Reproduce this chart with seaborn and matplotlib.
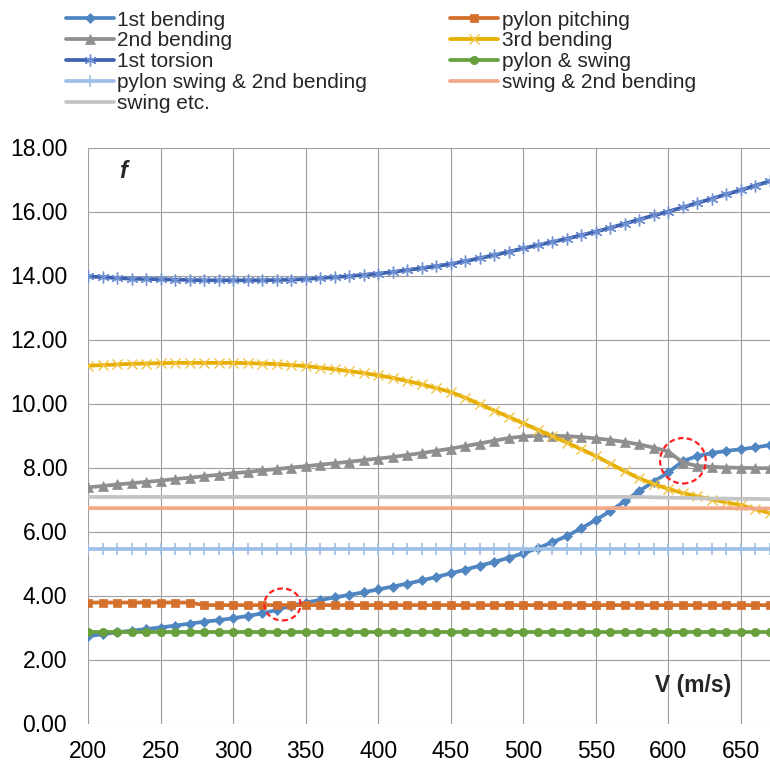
import numpy as np
import pandas as pd
import seaborn as sns
import matplotlib.pyplot as plt
from matplotlib.patches import Ellipse
from matplotlib.ticker import FormatStrFormatter, MultipleLocator

sns.set_theme(style="white")
plt.rcParams["font.family"] = ["Liberation Sans", "DejaVu Sans"]

# flow speed V (m/s)
V = [200, 210, 220, 230, 240, 250, 260, 270, 280, 290, 300, 310,
     320, 330, 340, 350, 360, 370, 380, 390, 400, 410, 420, 430,
     440, 450, 460, 470, 480, 490, 500, 510, 520, 530, 540, 550,
     560, 570, 580, 590, 600, 610, 620, 630, 640, 650, 660, 670]

# frequencies f
bend1 = [2.73, 2.79, 2.85, 2.90, 2.95, 3.00, 3.06, 3.12, 3.18, 3.23, 3.29, 3.36,
         3.44, 3.55, 3.68, 3.78, 3.86, 3.94, 4.02, 4.10, 4.19, 4.28, 4.37, 4.47,
         4.58, 4.69, 4.81, 4.93, 5.05, 5.18, 5.32, 5.48, 5.66, 5.86, 6.10, 6.36,
         6.64, 6.95, 7.27, 7.56, 7.85, 8.20, 8.36, 8.45, 8.52, 8.57, 8.63, 8.70]
pitch = [3.78, 3.78, 3.78, 3.78, 3.78, 3.78, 3.78, 3.78, 3.70, 3.70, 3.70, 3.70,
         3.70, 3.70, 3.70, 3.70, 3.70, 3.70, 3.70, 3.70, 3.70, 3.70, 3.70, 3.70,
         3.70, 3.70, 3.70, 3.70, 3.70, 3.70, 3.70, 3.70, 3.70, 3.70, 3.70, 3.70,
         3.70, 3.70, 3.70, 3.70, 3.70, 3.70, 3.70, 3.70, 3.70, 3.70, 3.70, 3.70]
bend2 = [7.38, 7.42, 7.47, 7.51, 7.55, 7.59, 7.64, 7.68, 7.73, 7.77, 7.82, 7.86,
         7.91, 7.95, 8.00, 8.04, 8.09, 8.13, 8.18, 8.23, 8.28, 8.33, 8.39, 8.45,
         8.52, 8.59, 8.67, 8.75, 8.84, 8.92, 8.97, 8.99, 8.99, 8.98, 8.95, 8.91,
         8.86, 8.80, 8.72, 8.62, 8.50, 8.15, 8.05, 8.02, 8.00, 7.99, 7.98, 7.98]
bend3 = [11.18, 11.20, 11.22, 11.24, 11.25, 11.26, 11.27, 11.27, 11.27, 11.27, 11.27, 11.26,
         11.25, 11.23, 11.20, 11.17, 11.12, 11.07, 11.01, 10.95, 10.88, 10.80, 10.70, 10.60,
         10.48, 10.36, 10.18, 9.98, 9.78, 9.58, 9.38, 9.18, 8.98, 8.78, 8.57, 8.36,
         8.12, 7.88, 7.66, 7.48, 7.33, 7.20, 7.10, 7.00, 6.91, 6.82, 6.70, 6.57]
tors1 = [13.97, 13.95, 13.92, 13.90, 13.89, 13.88, 13.87, 13.86, 13.85, 13.85, 13.85, 13.85,
         13.85, 13.86, 13.87, 13.89, 13.92, 13.95, 13.98, 14.02, 14.06, 14.11, 14.17, 14.23,
         14.29, 14.36, 14.45, 14.54, 14.64, 14.74, 14.85, 14.95, 15.05, 15.15, 15.26, 15.37,
         15.49, 15.62, 15.75, 15.88, 16.00, 16.13, 16.27, 16.40, 16.54, 16.67, 16.81, 16.95]
pyl_swing = [2.86, 2.86, 2.86, 2.86, 2.86, 2.86, 2.86, 2.86, 2.86, 2.86, 2.86, 2.86,
             2.86, 2.86, 2.86, 2.86, 2.86, 2.86, 2.86, 2.86, 2.86, 2.86, 2.86, 2.86,
             2.86, 2.86, 2.86, 2.86, 2.86, 2.86, 2.86, 2.86, 2.86, 2.86, 2.86, 2.86,
             2.86, 2.86, 2.86, 2.86, 2.86, 2.86, 2.86, 2.86, 2.86, 2.86, 2.86, 2.86]
pyl_swing_b2 = [5.45, 5.45, 5.45, 5.45, 5.45, 5.45, 5.45, 5.45, 5.45, 5.45, 5.45, 5.45,
                5.45, 5.45, 5.45, 5.45, 5.45, 5.45, 5.45, 5.45, 5.45, 5.45, 5.45, 5.45,
                5.45, 5.45, 5.45, 5.45, 5.45, 5.45, 5.45, 5.45, 5.45, 5.45, 5.45, 5.45,
                5.45, 5.45, 5.45, 5.45, 5.45, 5.45, 5.45, 5.45, 5.45, 5.45, 5.45, 5.45]
swing_b2 = [6.73, 6.73, 6.73, 6.73, 6.73, 6.73, 6.73, 6.73, 6.73, 6.73, 6.73, 6.73,
            6.73, 6.73, 6.73, 6.73, 6.73, 6.73, 6.73, 6.73, 6.73, 6.73, 6.73, 6.73,
            6.73, 6.73, 6.73, 6.73, 6.73, 6.73, 6.73, 6.73, 6.73, 6.73, 6.73, 6.73,
            6.73, 6.73, 6.73, 6.73, 6.73, 6.73, 6.73, 6.73, 6.73, 6.72, 6.72, 6.72]
swing_etc = [7.08, 7.08, 7.08, 7.08, 7.08, 7.08, 7.08, 7.08, 7.08, 7.08, 7.08, 7.08,
             7.08, 7.08, 7.08, 7.08, 7.08, 7.08, 7.08, 7.08, 7.08, 7.08, 7.08, 7.08,
             7.08, 7.08, 7.08, 7.08, 7.08, 7.08, 7.08, 7.08, 7.08, 7.08, 7.08, 7.08,
             7.08, 7.08, 7.08, 7.07, 7.06, 7.05, 7.04, 7.03, 7.03, 7.02, 7.02, 7.01]

# name, values, line colour, marker, marker size, marker colour, marker edge width
series = [
    ("1st bending", bend1, "#4f86c2", "D", 5.5, "#4f86c2", 0.5),
    ("pylon pitching", pitch, "#d4702c", "s", 6, "#d4702c", 0.5),
    ("2nd bending", bend2, "#8f8f8f", "^", 7, "#8f8f8f", 0.5),
    ("3rd bending", bend3, "#e5ae00", "x", 7, "#f2c443", 1.0),
    ("1st torsion", tors1, "#3d62ae", (6, 2, 0), 8.5, "#6f90d2", 1.0),
    ("pylon & swing", pyl_swing, "#67a03c", "o", 6, "#67a03c", 0.5),
    ("pylon swing & 2nd bending", pyl_swing_b2, "#9ec0e6", "+", 8, "#9ec0e6", 1.2),
    ("swing & 2nd bending", swing_b2, "#f2a98a", "_", 5, "#f2a98a", 1.2),
    ("swing etc.", swing_etc, "#c4c4c4", None, 0, "#c4c4c4", 0),
]

fig = plt.figure(figsize=(7.7, 7.65), dpi=100)
ax = fig.add_axes([88 / 770, 41.5 / 765, 682 / 770, 576 / 765])

handles = {}
for name, vals, col, mk, ms, mc, mew in series:
    sns.lineplot(x=V, y=vals, ax=ax, color=col, linewidth=2.7, marker=mk,
                 markersize=ms, markerfacecolor=mc, markeredgecolor=mc,
                 markeredgewidth=mew, label=name, legend=False, sort=False)
    handles[name] = ax.lines[-1]

# red dashed circles marking the mode crossings
ax.add_patch(Ellipse((334, 3.72), 25, 1.0, fill=False, ec="#ff2020",
                     ls=(0, (2.5, 1.5)), lw=1.6, zorder=10))
ax.add_patch(Ellipse((610, 8.21), 31.5, 1.42, fill=False, ec="#ff2020",
                     ls=(0, (2.5, 1.5)), lw=1.6, zorder=10))

ax.set_xlim(200, 670)
ax.set_ylim(0, 18)
ax.xaxis.set_major_locator(MultipleLocator(50))
ax.yaxis.set_major_locator(MultipleLocator(2))
ax.yaxis.set_major_formatter(FormatStrFormatter("%.2f"))
ax.grid(True, color="#9e9e9e", linewidth=0.8)
ax.set_axisbelow(True)
for s in ax.spines.values():
    s.set_visible(False)
ax.tick_params(axis="both", labelsize=16.5, length=5, width=0.8, color="#9e9e9e",
               direction="out", labelcolor="black")
ax.tick_params(axis="y", pad=10)
ax.tick_params(axis="x", pad=7)
ax.set_xlabel("")
ax.set_ylabel("")

ax.text(224, 17.25, "f", fontsize=17, fontweight="bold", fontstyle="italic",
        ha="center", va="center")
ax.text(617, 1.2, "V (m/s)", fontsize=16.5, fontweight="bold",
        ha="center", va="center")

order = ["1st bending", "2nd bending", "1st torsion", "pylon swing & 2nd bending",
         "swing etc.", "pylon pitching", "3rd bending", "pylon & swing",
         "swing & 2nd bending"]
fig.legend([handles[n] for n in order], order, loc="upper left",
           bbox_to_anchor=(66 / 770, 1 - 10.5 / 765), ncol=2, frameon=False,
           fontsize=15, handlelength=2.3, handletextpad=0.16, columnspacing=4.0,
           labelspacing=0.09, borderpad=0, borderaxespad=0, markerscale=1.0)

fig.savefig("out.png", dpi=100)
